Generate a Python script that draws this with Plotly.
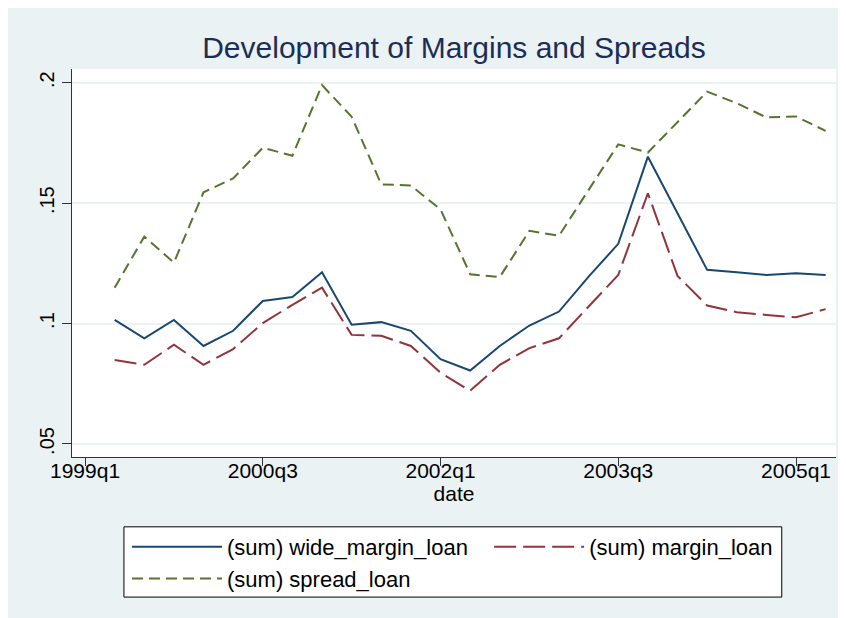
"""Development of margins and spreads, Stata s2color look."""
import plotly.graph_objects as go

quarters = [
    "1999q2", "1999q3", "1999q4", "2000q1", "2000q2", "2000q3", "2000q4",
    "2001q1", "2001q2", "2001q3", "2001q4", "2002q1", "2002q2", "2002q3",
    "2002q4", "2003q1", "2003q2", "2003q3", "2003q4", "2004q1", "2004q2",
    "2004q3", "2004q4", "2005q1", "2005q2",
]
wide_margin_loan = [
    0.1015, 0.0939, 0.1015, 0.0907, 0.0970, 0.1094, 0.1110, 0.1213, 0.0995,
    0.1006, 0.0970, 0.0852, 0.0805, 0.0907, 0.0992, 0.1050, 0.1195, 0.1331,
    0.1693, 0.1458, 0.1223, 0.1213, 0.1202, 0.1209, 0.1202,
]
margin_loan = [
    0.0849, 0.0829, 0.0912, 0.0829, 0.0894, 0.1002, 0.1078, 0.1149, 0.0953,
    0.0949, 0.0907, 0.0796, 0.0721, 0.0829, 0.0898, 0.0939, 0.1071, 0.1202,
    0.1541, 0.1198, 0.1075, 0.1047, 0.1036, 0.1026, 0.1060,
]
spread_loan = [
    0.1149, 0.1361, 0.1253, 0.1545, 0.1603, 0.1730, 0.1697, 0.1990, 0.1859,
    0.1578, 0.1573, 0.1474, 0.1205, 0.1193, 0.1385, 0.1365, 0.1555, 0.1744,
    0.1710, 0.1838, 0.1963, 0.1915, 0.1856, 0.1860, 0.1800,
]
x_ticks = ["1999q1", "2000q3", "2002q1", "2003q3", "2005q1"]
y_ticks = [0.05, 0.10, 0.15, 0.20]
y_tick_text = [".05", ".1", ".15", ".2"]


def qindex(label):
    # quarters since 1999q1
    return (int(label[:4]) - 1999) * 4 + int(label[-1]) - 1


xs = [qindex(q) for q in quarters]
FONT = "Liberation Sans, Arial, sans-serif"
BG = "#EAF2F3"

fig = go.Figure()
fig.add_trace(go.Scatter(x=xs, y=wide_margin_loan, mode="lines",
                         name="(sum) wide_margin_loan", legend="legend",
                         line=dict(color="#1A476F", width=2)))
fig.add_trace(go.Scatter(x=xs, y=margin_loan, mode="lines",
                         name="(sum) margin_loan", legend="legend2",
                         line=dict(color="#90353B", width=2, dash="22px,7px")))
fig.add_trace(go.Scatter(x=xs, y=spread_loan, mode="lines",
                         name="(sum) spread_loan", legend="legend",
                         line=dict(color="#55752F", width=2, dash="11px,6px")))

legend_style = dict(orientation="v", bgcolor="rgba(0,0,0,0)", borderwidth=0,
                    font=dict(family=FONT, size=22, color="black"),
                    itemwidth=90, yanchor="top", xanchor="left")

# figure fits the window next to the 8px page margin; plot area is 764 x 388
fig.update_layout(
    width=838, height=610,
    margin=dict(l=64, r=10, t=61, b=161),
    paper_bgcolor=BG, plot_bgcolor="white",
    font=dict(family=FONT, color="black"),
    title=dict(text="Development of Margins and Spreads", x=0.5, xref="paper",
               y=1 - 39 / 610, yref="container", yanchor="middle",
               font=dict(family=FONT, size=30, color="#1C2E57")),
    legend=dict(x=0.072, y=-0.178, **legend_style),
    legend2=dict(x=0.546, y=-0.178, **legend_style),
    showlegend=True,
    shapes=[
        # legend frame
        dict(type="rect", xref="paper", yref="paper", x0=0.068, x1=0.929,
             y0=-0.361, y1=-0.180, fillcolor="white",
             line=dict(color="black", width=1), layer="below"),
    ],
)
fig.update_xaxes(
    range=[-0.44, 25.35], tickvals=[qindex(t) for t in x_ticks], ticktext=x_ticks,
    showgrid=False, zeroline=False, showline=True, linecolor="#333", linewidth=1,
    ticks="outside", ticklen=8, tickcolor="#333", ticklabelstandoff=-13,
    tickfont=dict(size=21), title=dict(text="date", font=dict(size=21), standoff=0),
)
fig.update_yaxes(
    range=[0.0446, 0.2057], tickvals=y_ticks, ticktext=y_tick_text, tickangle=-90,
    showgrid=True, gridcolor=BG, gridwidth=2, zeroline=False,
    showline=True, linecolor="#333", linewidth=1,
    ticks="outside", ticklen=9, tickcolor="#333", tickfont=dict(size=20),
)

fig.write_html("out.html")
